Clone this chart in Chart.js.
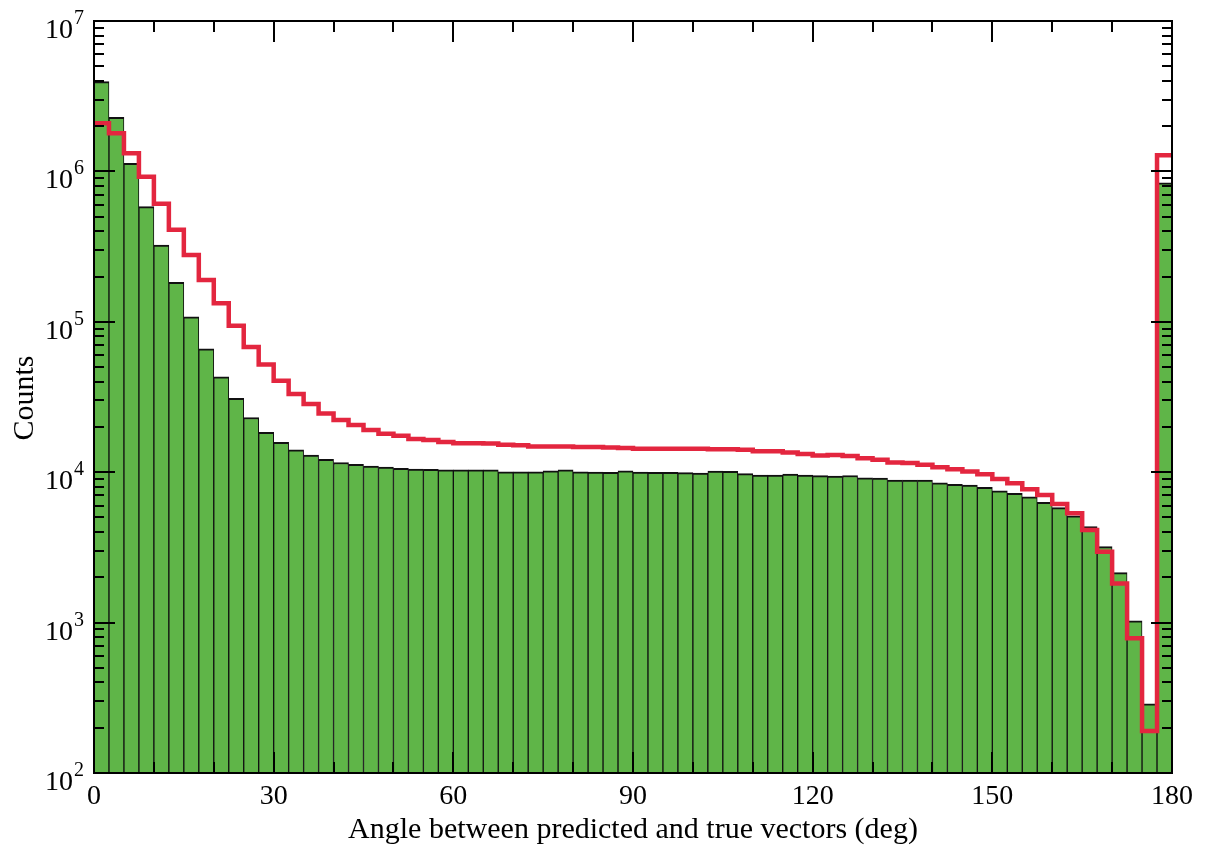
<!DOCTYPE html>
<html>
<head>
<meta charset="utf-8">
<title>Angle between predicted and true vectors</title>
<script src="https://cdn.jsdelivr.net/npm/chart.js@4.4.1/dist/chart.umd.min.js"></script>
<style>
    body { margin: 0; background: #fff; }
    canvas { display: block; }
</style>
</head>
<body>
<canvas id="angleHistogram" width="1210" height="845"></canvas>
<script>
// Histogram bins: 72 bins of 2.5 deg from 0 to 180
const binWidth = 2.5;
const angleMin = 0;
const angleMax = 180;

// Green bars (counts per bin)
const greenCounts = [
    3950000, 2290000, 1130000, 583000, 324000, 183000, 108000, 66000, 43000, 31000,
    23100, 18400, 15800, 14100, 13000, 12200, 11600, 11300, 11000, 10800,
    10620, 10500, 10450, 10350, 10350, 10350, 10350, 10070, 10070, 10070,
    10230, 10350, 10070, 10020, 9970, 10230, 10020, 9970, 9970, 9930,
    9880, 10180, 10120, 9780, 9580, 9580, 9730, 9580, 9480, 9440,
    9510, 9180, 9140, 8870, 8870, 8870, 8510, 8300, 8220, 7940,
    7530, 7230, 6870, 6310, 5810, 5120, 4350, 3200, 2150, 1026,
    288, 840000
];

// Red step outline (counts per bin)
const redCounts = [
    2090000, 1790000, 1320000, 920000, 610000, 410000, 278000, 190000, 133000, 94000,
    68000, 52000, 40600, 33100, 28400, 24600, 22200, 20600, 19100, 18000,
    17500, 16600, 16400, 15900, 15600, 15600, 15500, 15200, 15100, 14800,
    14800, 14800, 14700, 14700, 14600, 14500, 14300, 14300, 14300, 14300,
    14300, 14200, 14200, 14100, 13800, 13800, 13500, 13200, 12900, 13000,
    12800, 12400, 12100, 11600, 11500, 11200, 10800, 10450, 10100, 9680,
    9020, 8430, 7690, 7050, 6150, 5330, 4130, 2960, 1820, 787,
    190, 1280000
];

const xTickLabels = [0, 30, 60, 90, 120, 150, 180];
const xMinorStep = 10;
const yDecades = [2, 3, 4, 5, 6, 7];

const xTitle = 'Angle between predicted and true vectors (deg)';
const yTitle = 'Counts';

const barGreen = '#5fb548';
const lineRed = '#e3263f';
const serif = '"Liberation Serif", "Times New Roman", serif';

// bars sit on bin centres, the step line starts at each bin's left edge
const greenPoints = greenCounts.map((c, i) => ({ x: (i + 0.5) * binWidth, y: c }));
const redPoints = redCounts.map((c, i) => ({ x: i * binWidth, y: c }));
redPoints.push({ x: redCounts.length * binWidth, y: redCounts[redCounts.length - 1] });

// Frame, inward ticks and tick labels drawn on top of the data
const framePlugin = {
    id: 'framePlugin',
    afterDatasetsDraw(chart) {
        const ctx = chart.ctx;
        const area = chart.chartArea;
        const xs = chart.scales.x;
        const ys = chart.scales.y;

        ctx.save();
        ctx.strokeStyle = '#000';
        ctx.lineWidth = 2;

        function seg(x1, y1, x2, y2) {
            ctx.beginPath();
            ctx.moveTo(x1, y1);
            ctx.lineTo(x2, y2);
            ctx.stroke();
        }

        // x ticks, top and bottom
        for (let v = angleMin; v <= angleMax; v += xMinorStep) {
            const px = Math.round(xs.getPixelForValue(v));
            const len = xTickLabels.includes(v) ? 21 : 11;
            seg(px, area.top, px, area.top + len);
            seg(px, area.bottom, px, area.bottom - len);
        }

        // y ticks (log), left and right
        for (let d = yDecades[0]; d <= yDecades[yDecades.length - 1]; d++) {
            for (let m = 1; m <= 9; m++) {
                if (d === yDecades[yDecades.length - 1] && m > 1) break;
                const py = Math.round(ys.getPixelForValue(m * Math.pow(10, d)));
                const len = m === 1 ? 21 : 10;
                seg(area.left, py, area.left + len, py);
                seg(area.right, py, area.right - len, py);
            }
        }

        ctx.strokeRect(area.left, area.top, area.right - area.left, area.bottom - area.top);

        // tick labels
        ctx.fillStyle = '#000';
        ctx.textBaseline = 'alphabetic';
        ctx.font = '28px ' + serif;
        ctx.textAlign = 'center';
        xTickLabels.forEach(v => {
            ctx.fillText(String(v), xs.getPixelForValue(v), area.bottom + 31);
        });

        yDecades.forEach(d => {
            const py = ys.getPixelForValue(Math.pow(10, d));
            ctx.font = '28px ' + serif;
            ctx.textAlign = 'right';
            ctx.fillText('10', 73, py + 17);
            ctx.font = '20px ' + serif;
            ctx.textAlign = 'left';
            ctx.fillText(String(d), 74, py + 3);
        });

        // axis titles
        ctx.font = '30px ' + serif;
        ctx.textAlign = 'center';
        ctx.fillText(xTitle, (area.left + area.right) / 2, 838);

        ctx.translate(33, 398);
        ctx.rotate(-Math.PI / 2);
        ctx.fillText(yTitle, 0, 0);
        ctx.restore();
    }
};

const ctx = document.getElementById('angleHistogram').getContext('2d');
new Chart(ctx, {
    data: {
        datasets: [
            {
                type: 'line',
                label: 'Red',
                data: redPoints,
                stepped: true,
                borderColor: lineRed,
                borderWidth: 4.5,
                pointRadius: 0,
                fill: false,
                order: 0
            },
            {
                type: 'bar',
                label: 'Green',
                data: greenPoints,
                backgroundColor: barGreen,
                borderColor: '#111',
                borderWidth: { top: 2, left: 1, right: 1, bottom: 0 },
                barPercentage: 1,
                categoryPercentage: 1,
                order: 1
            }
        ]
    },
    options: {
        responsive: false,
        animation: false,
        layout: {
            padding: { left: 94, right: 38, top: 21, bottom: 72 }
        },
        plugins: {
            legend: { display: false },
            tooltip: { enabled: false }
        },
        scales: {
            x: {
                type: 'linear',
                min: angleMin,
                max: angleMax,
                offset: false,
                display: false
            },
            y: {
                type: 'logarithmic',
                min: Math.pow(10, yDecades[0]),
                max: Math.pow(10, yDecades[yDecades.length - 1]),
                display: false
            }
        }
    },
    plugins: [framePlugin]
});
</script>
</body>
</html>
